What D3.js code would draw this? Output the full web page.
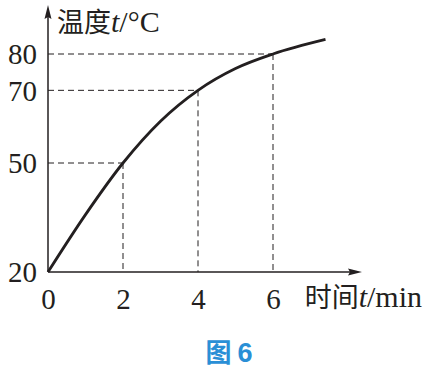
<!DOCTYPE html>
<html>
<head>
<meta charset="utf-8">
<script src="https://cdn.jsdelivr.net/npm/d3@7"></script>
<style>
  body { margin: 0; background: #fff; }
  svg { display: block; }
  .tick text { font-family: "Liberation Serif", serif; font-size: 29px; fill: #231f20; }
</style>
</head>
<body>
<div id="chart"></div>
<script>
var width = 425;
var height = 373;

// data
var times = [0, 1, 2, 3, 4, 5, 6, 7.4];
var temps = [20, 35.8, 50, 61.5, 70, 76, 80, 84];
var marked = [2, 4, 6];          // points with guide lines
var markedTemps = [50, 70, 80];
var xTicks = [0, 2, 4, 6];
var yTicks = [20, 50, 70, 80];

var ink = "#231f20";

var svg = d3.select("#chart")
    .append("svg")
    .attr("width", width)
    .attr("height", height);

var xScale = d3.scaleLinear()
    .domain([0, 6])
    .range([48, 273]);
var yScale = d3.scaleLinear()
    .domain([20, 80])
    .range([272, 54]);

// dashed guide lines
marked.forEach(function (t, i) {
    var px = xScale(t), py = yScale(markedTemps[i]);
    svg.append("line")
        .attr("x1", xScale(0)).attr("y1", py)
        .attr("x2", px).attr("y2", py)
        .attr("stroke", ink).attr("stroke-width", 1)
        .attr("stroke-dasharray", "6,4");
    svg.append("line")
        .attr("x1", px).attr("y1", py)
        .attr("x2", px).attr("y2", yScale(20))
        .attr("stroke", ink).attr("stroke-width", 1)
        .attr("stroke-dasharray", "6,4");
});

// axes with arrows
var ox = xScale(0), oy = yScale(20);
svg.append("line")
    .attr("x1", ox).attr("y1", oy)
    .attr("x2", 356).attr("y2", oy)
    .attr("stroke", ink).attr("stroke-width", 1.5);
svg.append("path")
    .attr("d", "M362," + oy + " L348," + (oy - 3.5) + " L350," + oy + " L348," + (oy + 3.5) + " Z")
    .attr("fill", ink);
svg.append("line")
    .attr("x1", ox).attr("y1", oy)
    .attr("x2", ox).attr("y2", 12)
    .attr("stroke", ink).attr("stroke-width", 1.5);
svg.append("path")
    .attr("d", "M" + ox + ",5 L" + (ox - 3.5) + ",19 L" + ox + ",17 L" + (ox + 3.5) + ",19 Z")
    .attr("fill", ink);

// tick labels via d3 axes (no tick marks, no domain)
var xAxis = d3.axisBottom(xScale).tickValues(xTicks).tickFormat(d3.format("d"))
    .tickSize(0).tickPadding(16);
svg.append("g")
    .attr("transform", "translate(0," + oy + ")")
    .call(xAxis)
    .call(function (g) { g.select(".domain").remove(); });

var yAxis = d3.axisLeft(yScale).tickValues(yTicks).tickFormat(d3.format("d"))
    .tickSize(0).tickPadding(11);
svg.append("g")
    .attr("transform", "translate(" + ox + ",0)")
    .call(yAxis)
    .call(function (g) { g.select(".domain").remove(); })
    .selectAll("text").attr("dy", "0.34em");

// curve
var line = d3.line()
    .curve(d3.curveMonotoneX)
    .x(function (d, i) { return xScale(d); })
    .y(function (d, i) { return yScale(temps[i]); });
svg.append("path")
    .datum(times)
    .attr("d", line)
    .attr("fill", "none")
    .attr("stroke", ink)
    .attr("stroke-width", 2.8);

// axis titles
function axisTitle(x, y, anchor, cn, unit) {
    var t = svg.append("text")
        .attr("x", x).attr("y", y)
        .attr("text-anchor", anchor)
        .attr("fill", ink);
    t.append("tspan")
        .attr("font-family", "'Noto Sans CJK SC', sans-serif")
        .attr("font-size", 27)
        .text(cn);
    t.append("tspan")
        .attr("font-family", "'Liberation Serif', serif")
        .attr("font-style", "italic")
        .attr("font-size", 30)
        .text("t");
    t.append("tspan")
        .attr("font-family", "'Liberation Serif', serif")
        .attr("font-size", 30)
        .text(unit);
}
axisTitle(57, 32, "start", "温度", "/°C");
axisTitle(422, 307, "end", "时间", "/min");

// caption
var cap = svg.append("text")
    .attr("x", 229).attr("y", 362)
    .attr("text-anchor", "middle")
    .attr("fill", "#2a8fd6")
    .attr("font-weight", "bold");
cap.append("tspan")
    .attr("font-family", "'Noto Sans CJK SC', sans-serif")
    .attr("font-size", 26)
    .text("图 ");
cap.append("tspan")
    .attr("font-family", "'Liberation Sans', sans-serif")
    .attr("font-size", 27)
    .text("6");
</script>
</body>
</html>
